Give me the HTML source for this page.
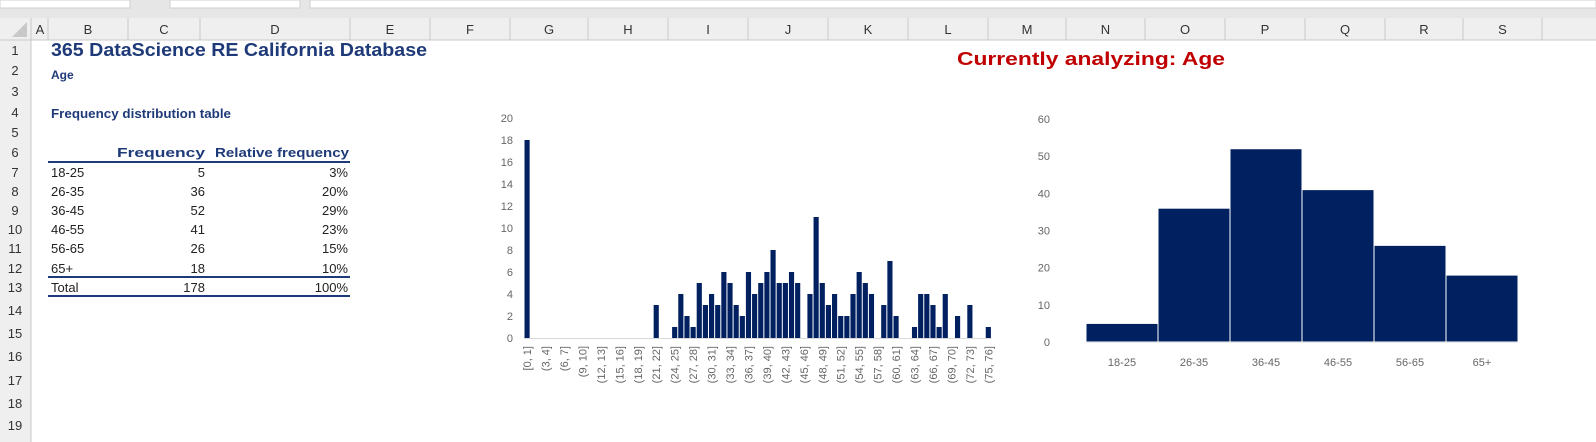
<!DOCTYPE html>
<html><head><meta charset="utf-8"><style>
html,body{margin:0;padding:0;background:#fff;}
body{width:1596px;height:442px;overflow:hidden;position:relative;font-family:"Liberation Sans",sans-serif;}
.abs{position:absolute;}
</style></head><body>
<svg class="abs" style="left:0;top:0" width="1596" height="442">
<rect x="0" y="0" width="1596" height="18" fill="#e6e6e6"/>
<rect x="0" y="0" width="130" height="8" fill="#fff" stroke="#d0d0d0"/>
<rect x="170" y="0" width="130" height="8" fill="#fff" stroke="#d0d0d0"/>
<rect x="310" y="0" width="1286" height="8" fill="#fff" stroke="#d0d0d0"/>
<rect x="0" y="18" width="1596" height="22" fill="#efefef"/>
<rect x="0" y="40" width="31" height="402" fill="#efefef"/>
<line x1="0" y1="40" x2="1596" y2="40" stroke="#c8c8c8"/>
<line x1="31" y1="18" x2="31" y2="442" stroke="#c8c8c8"/>
<polygon points="27,22 27,37 12,37" fill="#c8c8c8"/>
<g id="colheads" font-size="13" fill="#333" text-anchor="middle"></g>
<g id="rowheads" font-size="13" fill="#333" text-anchor="middle"></g>
<text x="51" y="56" font-size="18" font-weight="bold" fill="#1f3a78" textLength="376" lengthAdjust="spacingAndGlyphs">365 DataScience RE California Database</text>
<text x="51" y="79" font-size="12" font-weight="bold" fill="#1f3a78">Age</text>
<text x="51" y="118" font-size="12.5" font-weight="bold" fill="#1f3a78" textLength="180" lengthAdjust="spacingAndGlyphs">Frequency distribution table</text>
<text x="957" y="65" font-size="18" font-weight="bold" fill="#c00000" textLength="268" lengthAdjust="spacingAndGlyphs">Currently analyzing: Age</text>
</svg>

<svg class="abs" style="left:0;top:0" width="400" height="320">
<g font-size="13" fill="#1f3a78" font-weight="bold">
<text x="117" y="157" textLength="88" lengthAdjust="spacingAndGlyphs">Frequency</text>
<text x="215" y="157" textLength="134" lengthAdjust="spacingAndGlyphs">Relative frequency</text>
</g>
<line x1="48" y1="162" x2="350" y2="162" stroke="#1f3a78" stroke-width="2"/>
<line x1="48" y1="277" x2="350" y2="277" stroke="#1f3a78" stroke-width="2"/>
<line x1="48" y1="296" x2="350" y2="296" stroke="#1f3a78" stroke-width="2"/>
<g id="tbl" font-size="13" fill="#222"></g>
</svg>

<svg class="abs" style="left:0;top:0" width="1596" height="442" id="charts">
<g id="hist"></g>
<g id="grp"></g>
</svg>

<script>
// ---- data ----
const histBins = [];
for (let i = 0; i < 76; i++) histBins.push(i === 0 ? "[0, 1]" : "(" + i + ", " + (i + 1) + "]");
const histValues = [18,0,0,0,0,0,0,0,0,0,0,0,0,0,0,0,0,0,0,0,0,3,0,0,1,4,2,1,5,3,4,3,6,5,3,2,6,4,5,6,8,5,5,6,5,0,4,11,5,3,4,2,2,4,6,5,4,0,3,7,2,0,0,1,4,4,3,1,4,0,2,0,3,0,0,1];
const histTicks = [0,2,4,6,8,10,12,14,16,18,20];
const groupCats = ["18-25","26-35","36-45","46-55","56-65","65+"];
const groupFreq = [5,36,52,41,26,18];
const groupRel = ["3%","20%","29%","23%","15%","10%"];
const groupTicks = [0,10,20,30,40,50,60];

const NS = "http://www.w3.org/2000/svg";
function mk(tag, attrs, parent, txt) {
  const e = document.createElementNS(NS, tag);
  for (const k in attrs) e.setAttribute(k, attrs[k]);
  if (txt !== undefined) e.textContent = txt;
  parent.appendChild(e);
  return e;
}

// column / row headers
const cols = [["A",32,48],["B",48,128],["C",128,200],["D",200,350],["E",350,430],["F",430,510],["G",510,588],["H",588,668],["I",668,748],["J",748,828],["K",828,908],["L",908,988],["M",988,1066],["N",1066,1145],["O",1145,1225],["P",1225,1305],["Q",1305,1385],["R",1385,1463],["S",1463,1542]];
const ch = document.getElementById("colheads");
cols.forEach(c => {
  const t = mk("text", {x: (c[1] + c[2]) / 2, y: 34}, ch, c[0]);
  
  
  mk("line", {x1: c[2], y1: 18, x2: c[2], y2: 40, stroke: "#c8c8c8"}, ch);
});
const rowY = [50,70,91,112,132,152,172,191,210,229,248,268,287,310,333,356,380,403,425];
const rh = document.getElementById("rowheads");
rowY.forEach((y, i) => {
  const t = mk("text", {x: 15, y: y + 5}, rh, String(i + 1));
  
  
});

// table
const tbl = document.getElementById("tbl");
groupCats.forEach((c, i) => {
  const y = rowY[6 + i] + 5;
  const r = mk("g", {}, tbl);
  
  
  mk("text", {x: 51, y: y}, r, c);
  mk("text", {x: 205, y: y, "text-anchor": "end"}, r, String(groupFreq[i]));
  mk("text", {x: 348, y: y, "text-anchor": "end"}, r, groupRel[i]);
});
const tot = groupFreq.reduce((a, b) => a + b, 0);
const tr = mk("g", {}, tbl);


mk("text", {x: 51, y: rowY[12] + 5}, tr, "Total");
mk("text", {x: 205, y: rowY[12] + 5, "text-anchor": "end"}, tr, String(tot));
mk("text", {x: 348, y: rowY[12] + 5, "text-anchor": "end"}, tr, "100%");

// histogram
const H = document.getElementById("hist");
const hx0 = 524, hstep = 6.15, hy0 = 338, hyTop = 118, hmax = 20;
const hy = v => hy0 - (v / hmax) * (hy0 - hyTop);
const hx = i => hx0 + i * hstep;
histTicks.forEach(t => {
  const e = mk("text", {x: 513, y: hy(t) + 4, "text-anchor": "end", "font-size": 11, fill: "#666"}, H, String(t));
  
  
});
mk("line", {x1: hx0, y1: hy0 + 0.5, x2: hx(histBins.length), y2: hy0 + 0.5, stroke: "#d9d9d9"}, H);
histValues.forEach((v, i) => {
  if (v > 0) {
    const b = mk("rect", {x: hx(i) + 0.5, y: hy(v), width: hstep - 1, height: hy0 - hy(v), fill: "#002060"}, H);
    
    
  }
});
histBins.forEach((lab, i) => {
  if (i % 3 === 0) {
    const cx = hx(i) + hstep / 2 + 4;
    const e = mk("text", {x: cx, y: 346, "text-anchor": "end", "font-size": 11, fill: "#666", transform: "rotate(-90 " + cx + " 346)"}, H, lab);
    
    
  }
});

// grouped chart
const G = document.getElementById("grp");
const gx0 = 1086, gw = 72, gy0 = 342, gyTop = 119, gmax = 60;
const gy = v => gy0 - (v / gmax) * (gy0 - gyTop);
groupTicks.forEach(t => {
  const e = mk("text", {x: 1050, y: gy(t) + 4, "text-anchor": "end", "font-size": 11, fill: "#666"}, G, String(t));
  
  
});
mk("line", {x1: gx0, y1: gy0 + 0.5, x2: gx0 + gw * groupCats.length, y2: gy0 + 0.5, stroke: "#d9d9d9"}, G);
groupCats.forEach((c, i) => {
  const b = mk("rect", {x: gx0 + i * gw, y: gy(groupFreq[i]), width: gw, height: gy0 - gy(groupFreq[i]), fill: "#002060", stroke: "#fff", "stroke-width": 1}, G);
  
  
  const t = mk("text", {x: gx0 + i * gw + gw / 2, y: 366, "text-anchor": "middle", "font-size": 11, fill: "#666"}, G, c);
  
  
});
</script>
</body></html>
